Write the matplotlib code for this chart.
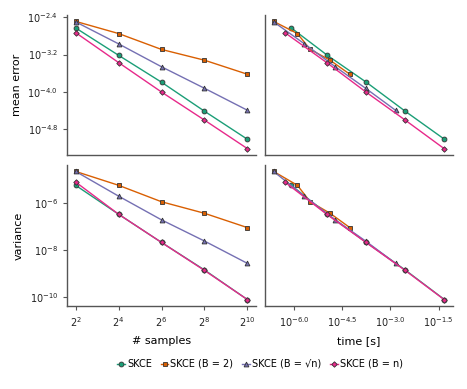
import numpy as np
from matplotlib import pyplot
from matplotlib.ticker import FixedLocator, NullLocator

# estimators
labels  = ['SKCE', 'SKCE (B = 2)', 'SKCE (B = \u221an)', 'SKCE (B = n)']
colors  = ['#1b9e77', '#d95f02', '#7570b3', '#e7298a']
markers = ['o', 's', '^', 'D']
msizes  = [3.5, 3.5, 3.5, 2.8]

# number of samples (log2)
log2_samples = [2, 4, 6, 8, 10]

# log10 of mean error
log_err_skce  = [-2.63, -3.215, -3.79, -4.41, -5.01]
log_err_b2    = [-2.49, -2.75, -3.09, -3.32, -3.62]
log_err_bsqrt = [-2.50, -2.97, -3.46, -3.92, -4.39]
log_err_bn    = [-2.73, -3.37, -4.00, -4.60, -5.21]

# log10 of variance
log_var_skce  = [-5.26, -6.49, -7.69, -8.86, -10.12]
log_var_b2    = [-4.67, -5.26, -5.96, -6.45, -7.06]
log_var_bsqrt = [-4.67, -5.72, -6.73, -7.63, -8.58]
log_var_bn    = [-5.12, -6.49, -7.69, -8.88, -10.12]

# log10 of time [s]
log_time_skce  = [-6.08, -4.96, -3.75, -2.54, -1.32]
log_time_b2    = [-6.63, -5.89, -5.49, -4.875, -4.26]
log_time_bsqrt = [-6.63, -5.67, -4.71, -3.77, -2.84]
log_time_bn    = [-6.28, -4.98, -3.76, -2.54, -1.33]

errs  = [log_err_skce, log_err_b2, log_err_bsqrt, log_err_bn]
vars_ = [log_var_skce, log_var_b2, log_var_bsqrt, log_var_bn]
times = [log_time_skce, log_time_b2, log_time_bsqrt, log_time_bn]

err_ticks  = [-2.4, -3.2, -4.0, -4.8]
var_ticks  = [-6, -8, -10]
time_ticks = [-6.0, -4.5, -3.0, -1.5]

pyplot.rcParams['font.family'] = 'DejaVu Sans'
fig = pyplot.figure(figsize=(4.67, 3.89), dpi=100)
W, H = 467., 389.
def rect(x0, x1, y0, y1):
	return [x0/W, 1-y1/H, (x1-x0)/W, (y1-y0)/H]
ax_tl = fig.add_axes(rect(67, 256, 15, 155))
ax_tr = fig.add_axes(rect(265, 453, 15, 155), sharey=ax_tl)
ax_bl = fig.add_axes(rect(67, 256, 165, 306), sharex=ax_tl)
ax_br = fig.add_axes(rect(265, 453, 165, 306), sharex=ax_tr, sharey=ax_bl)

n = 2.0**np.array(log2_samples)
for i in range(4):
	kw = dict(color=colors[i], marker=markers[i], ms=msizes[i], mec='#333333', mew=0.6, lw=1.0)
	e = 10.0**np.array(errs[i])
	v = 10.0**np.array(vars_[i])
	t = 10.0**np.array(times[i])
	ax_tl.plot(n, e, label=labels[i], **kw)
	ax_tr.plot(t, e, **kw)
	ax_bl.plot(n, v, **kw)
	ax_br.plot(t, v, **kw)

for ax in [ax_tl, ax_tr, ax_bl, ax_br]:
	ax.spines['top'].set_visible(False)
	ax.spines['right'].set_visible(False)
	for s in ['left', 'bottom']:
		ax.spines[s].set_color('#555555')
		ax.spines[s].set_linewidth(1.0)
	ax.tick_params(labelsize=7, color='#555555', length=3, width=0.8, labelcolor='#222222')

ax_tl.set_xscale('log', base=2)
ax_tl.set_yscale('log')
ax_tr.set_xscale('log')
ax_bl.set_yscale('log')

ax_tl.yaxis.set_major_locator(FixedLocator([10.0**k for k in err_ticks]))
ax_tl.yaxis.set_minor_locator(NullLocator())
ax_tl.set_yticklabels([r'$10^{%.1f}$' % k for k in err_ticks])
ax_bl.yaxis.set_major_locator(FixedLocator([10.0**k for k in var_ticks]))
ax_bl.yaxis.set_minor_locator(NullLocator())
ax_bl.set_yticklabels([r'$10^{%d}$' % k for k in var_ticks])

ax_bl.xaxis.set_major_locator(FixedLocator(list(n)))
ax_bl.xaxis.set_minor_locator(NullLocator())
ax_bl.set_xticklabels([r'$2^{%d}$' % k for k in log2_samples])
ax_br.xaxis.set_major_locator(FixedLocator([10.0**k for k in time_ticks]))
ax_br.xaxis.set_minor_locator(NullLocator())
ax_br.set_xticklabels([r'$10^{%.1f}$' % k for k in time_ticks])

for ax in [ax_tl, ax_tr]:
	ax.tick_params(axis='x', bottom=False, labelbottom=False)
for ax in [ax_tr, ax_br]:
	ax.tick_params(axis='y', left=False, labelleft=False)

ax_tl.set_ylabel('mean error', size=8)
ax_bl.set_ylabel('variance', size=8)
ax_bl.set_xlabel('# samples', size=8, labelpad=5)
ax_br.set_xlabel('time [s]', size=8, labelpad=5)

fig.legend(loc='center', bbox_to_anchor=(260/W, 1-364/H), ncol=4, frameon=False,
	fontsize=7, handlelength=0.8, handletextpad=0.2, columnspacing=0.9)

pyplot.savefig('out.png', dpi=100)
